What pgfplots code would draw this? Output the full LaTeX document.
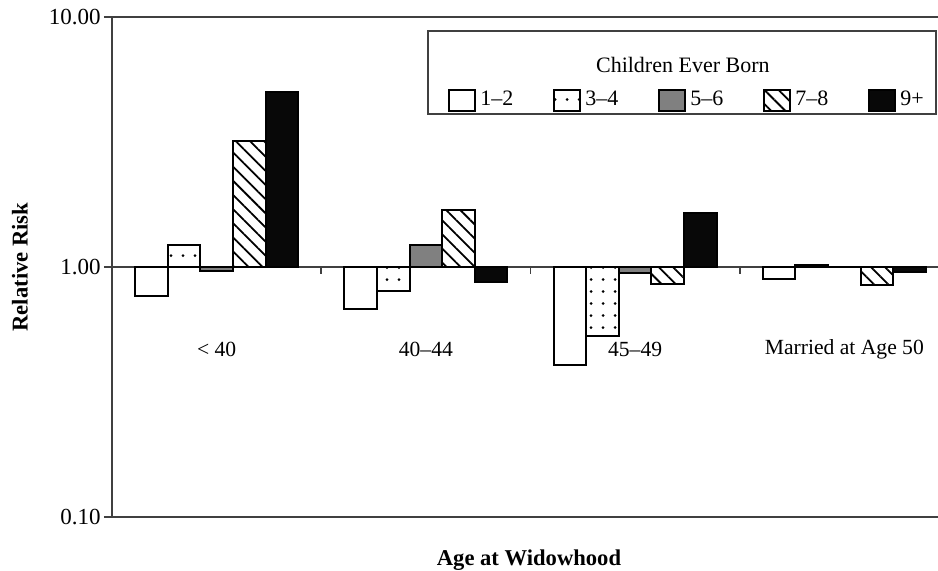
\documentclass[border=0pt]{standalone}
\usepackage{fontspec}
\setmainfont{Liberation Serif}
\usepackage{pgfplots}
\pgfplotsset{compat=1.18}
\usetikzlibrary{patterns.meta}
\newcommand{\F}{\fontsize{11pt}{13pt}\selectfont}
\newcommand{\FG}{\fontsize{10.8pt}{13pt}\selectfont}
\newcommand{\FT}{\fontsize{11.5pt}{13pt}\selectfont}
\newcommand{\FL}{\fontsize{11.3pt}{13pt}\selectfont\bfseries}
\pgfplotsset{swatch/.style={legend image code/.code={\draw[##1] (0pt,-5.25pt) rectangle (13pt,5.25pt);}}}
\begin{document}
\begin{tikzpicture}
\useasboundingbox (-56pt,-26.5pt) rectangle (413pt,258.5pt);
\begin{axis}[
  scale only axis, width=418.5pt, height=250pt,
  anchor=south west, at={(0pt,0pt)},
  ymode=log, ymin=0.1, ymax=10, xmin=-0.5, xmax=3.5,
  xtick=\empty,
  ytick={0.1,1,10}, yticklabels={0.10,1.00,10.00},
  yminorticks=false,
  ytick pos=left, tick align=outside, major tick length=4pt,
  axis line style={line width=0.8pt, black!75},
  major tick style={line width=0.8pt, black!75},
  tick label style={font=\FT},
  yticklabel style={inner sep=1.5pt},
  ylabel={Relative Risk},
  ylabel style={at={(axis description cs:-0.1099,0.5)}, anchor=center, font=\FL},
  xlabel={Age at Widowhood},
  xlabel style={at={(axis description cs:0.4982,-0.086)}, anchor=center, font=\FL},
  ybar, bar width=0.156,
  legend columns=5,
  legend style={at={(axis description cs:0.4014,0.834)}, anchor=west, draw=none, fill=none,
    inner sep=0pt, font=\F, /tikz/every even column/.append style={column sep=18pt}},
]
\draw[line width=0.8pt, black!75] (axis cs:-0.5,1) -- (axis cs:3.5,1);
\draw[line width=0.8pt, black!75] (axis cs:0.5,1) -- ++(0pt,-3.5pt);
\draw[line width=0.8pt, black!75] (axis cs:1.5,1) -- ++(0pt,-3.5pt);
\draw[line width=0.8pt, black!75] (axis cs:2.5,1) -- ++(0pt,-3.5pt);
\addplot[swatch, draw=black, line width=1pt, fill=white, bar shift=-0.312]
  coordinates {(0,0.767) (1,0.678) (2,0.406) (3,0.897)};
\addlegendentry{1–2}
\addplot[swatch, draw=black, line width=1pt, pattern={Dots[distance=6pt,radius=0.75pt,xshift=1.5pt,yshift=1.25pt]}, pattern color=black, bar shift=-0.156]
  coordinates {(0,1.22) (1,0.80) (2,0.528) (3,1.02)};
\addlegendentry{3–4}
\addplot[swatch, draw=black, line width=1pt, fill=black!50, bar shift=0]
  coordinates {(0,0.963) (1,1.22) (2,0.949) (3,1.0)};
\addlegendentry{5–6}
\addplot[swatch, draw=black, line width=1pt, pattern={Lines[angle=-45,distance=5pt,line width=0.9pt]}, pattern color=black, bar shift=0.156]
  coordinates {(0,3.19) (1,1.69) (2,0.852) (3,0.845)};
\addlegendentry{7–8}
\addplot[swatch, draw=black, line width=1pt, fill=black!97, bar shift=0.312]
  coordinates {(0,5.03) (1,0.87) (2,1.64) (3,0.957)};
\addlegendentry{9+}
\draw[line width=0.75pt, black!75] (axis description cs:0.3775,0.806) rectangle (axis description cs:0.9845,0.972);
\node[font=\F] at (axis description cs:0.682,0.904) {Children Ever Born};
\node[font=\FG] at (axis cs:0,0.47) {< 40};
\node[font=\FG] at (axis cs:1,0.47) {40–44};
\node[font=\FG] at (axis cs:2,0.47) {45–49};
\node[font=\FG] at (axis cs:3,0.47) {Married at Age 50};
\end{axis}
\end{tikzpicture}
\end{document}
